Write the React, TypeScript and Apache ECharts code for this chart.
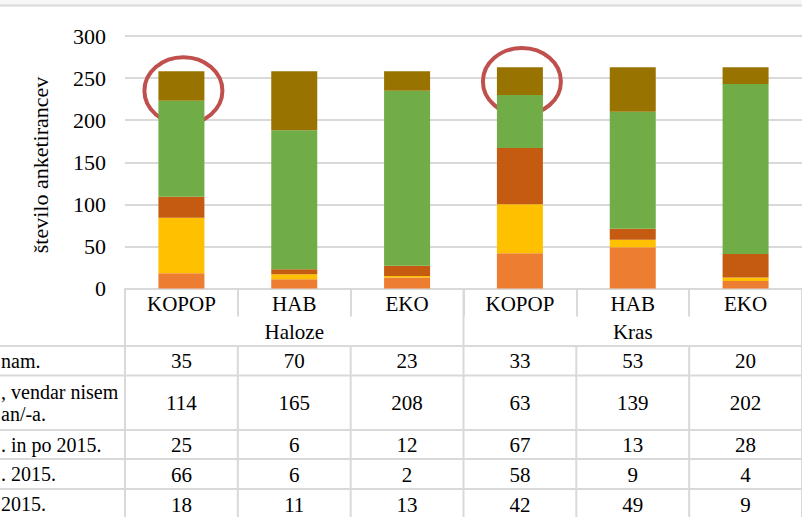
import React, { useEffect, useRef } from 'react';
import * as echarts from 'echarts';

const categories = ['KOPOP', 'HAB', 'EKO', 'KOPOP', 'HAB', 'EKO'];
const groups = ['Haloze', 'Kras'];
const groupSize = 3;
// visible (cut-off) fragments of the table's row labels, top row first
const rowLabels = [['nam.'], [', vendar nisem', 'an/-a.'], ['. in po 2015.'], ['. 2015.'], ['2015.']];
// series, top table row first
const sNam = [35, 70, 23, 33, 53, 20];
const sVendar = [114, 165, 208, 63, 139, 202];
const sInPo = [25, 6, 12, 67, 13, 28];
const sPred = [66, 6, 2, 58, 9, 4];
const s2015 = [18, 11, 13, 42, 49, 9];
const yMin = 0;
const yMax = 300;
const yInterval = 50;
const yTitle = 'število anketirancev';
const highlighted = [
  { cat: 0, value: 235 },
  { cat: 3, value: 246 },
];

const FONT = 'Liberation Serif';
const LINE = '#d9d9d9';

export default function App() {
  const ref = useRef<HTMLDivElement>(null);
  useEffect(() => {
    if (!ref.current) return;
    const chart = echarts.init(ref.current, null, { renderer: 'svg' });
    const tableRows = [sNam, sVendar, sInPo, sPred, s2015];
    const colors = ['#997300', '#70AD47', '#C55A11', '#FFC000', '#ED7D31'];
    const stackOrder = [4, 3, 2, 1, 0];
    const series = stackOrder.map((ri) => ({
      type: 'bar',
      name: rowLabels[ri].join(' '),
      stack: 'all',
      barWidth: 46,
      data: tableRows[ri],
      itemStyle: { color: colors[ri] },
      emphasis: { disabled: true },
    }));
    chart.setOption({
      animation: false,
      grid: { left: 125, top: 36, width: 678, bottom: 517 - 288.5 },
      xAxis: {
        type: 'category',
        data: categories,
        axisLine: { lineStyle: { color: LINE, width: 2 } },
        axisTick: { show: true, length: 28, interval: 0, lineStyle: { color: LINE, width: 2 } },
        axisLabel: { fontFamily: FONT, fontSize: 21, color: '#000', margin: 5, interval: 0 },
      },
      yAxis: {
        type: 'value',
        min: yMin,
        max: yMax,
        interval: yInterval,
        axisLine: { show: false },
        axisTick: { show: false },
        axisLabel: { fontFamily: FONT, fontSize: 22, color: '#000', margin: 19 },
        splitLine: { lineStyle: { color: LINE, width: 2 } },
      },
      series,
    });

    const cx = (i: number) => chart.convertToPixel({ xAxisIndex: 0 }, i) as number;
    const cy = (v: number) => chart.convertToPixel({ yAxisIndex: 0 }, v) as number;
    const band = cx(1) - cx(0);
    const bound = (i: number) => cx(i) - band / 2;
    const axisY = cy(0) + 0.8;
    const rowLines = [346, 375.5, 430, 459, 489, 519];
    const g: any[] = [];
    const line = (x1: number, y1: number, x2: number, y2: number) =>
      g.push({ type: 'line', silent: true, shape: { x1, y1, x2, y2 }, style: { stroke: LINE, lineWidth: 2 } });
    const txt = (text: string, x: number, y: number, align: string, size = 21) =>
      g.push({
        type: 'text',
        silent: true,
        x,
        y,
        style: { text, fill: '#000', fontFamily: FONT, fontSize: size, textAlign: align, textVerticalAlign: 'middle' },
      });

    // top frame
    g.push({ type: 'rect', silent: true, shape: { x: 0, y: 0, width: 802, height: 5 }, style: { fill: '#f7f7f7' } });
    line(0, 5.5, 802, 5.5);

    // y title
    g.push({
      type: 'text',
      silent: true,
      x: 40,
      y: 165,
      rotation: Math.PI / 2,
      style: { text: yTitle, fill: '#000', fontFamily: FONT, fontSize: 22, textAlign: 'center', textVerticalAlign: 'middle' },
    });

    // table frame
    for (let r = 0; r < rowLines.length - 1; r++) line(0, rowLines[r], 802, rowLines[r]);
    const n = categories.length;
    for (let i = 0; i <= n; i++) {
      const x = bound(i);
      if (i % groupSize === 0) line(x, axisY, x, 517);
      else line(x, rowLines[0], x, 517);
    }
    // group labels
    groups.forEach((name, gi) => {
      const x = (bound(gi * groupSize) + bound((gi + 1) * groupSize)) / 2;
      txt(name, x, 332, 'center');
    });
    // values
    tableRows.forEach((row, r) => {
      const y = (rowLines[r] + rowLines[r + 1]) / 2 + 0.5;
      row.forEach((v, i) => txt(String(v), cx(i), y, 'center'));
    });
    // row label fragments (left edge of the visible part)
    const frag = [
      [{ x: 1, y: 361 }],
      [{ x: 1, y: 392 }, { x: 1, y: 414 }],
      [{ x: 1, y: 445 }],
      [{ x: 1, y: 474 }],
      [{ x: 1, y: 504 }],
    ];
    rowLabels.forEach((parts, r) => parts.forEach((p, k) => txt(p, frag[r][k].x, frag[r][k].y, 'left', 20)));

    // highlight ellipses
    highlighted.forEach((h) => {
      g.push({
        type: 'ellipse',
        silent: true,
        shape: { cx: cx(h.cat) + 2, cy: cy(h.value), rx: 39, ry: 33.5 },
        style: { fill: 'none', stroke: '#C0504D', lineWidth: 4 },
      });
    });

    chart.setOption({ graphic: g });
    return () => chart.dispose();
  }, []);
  return (
    <div
      ref={ref}
      style={{ position: 'fixed', left: 0, top: 0, width: 802, height: 517, background: '#fff' }}
    />
  );
}
